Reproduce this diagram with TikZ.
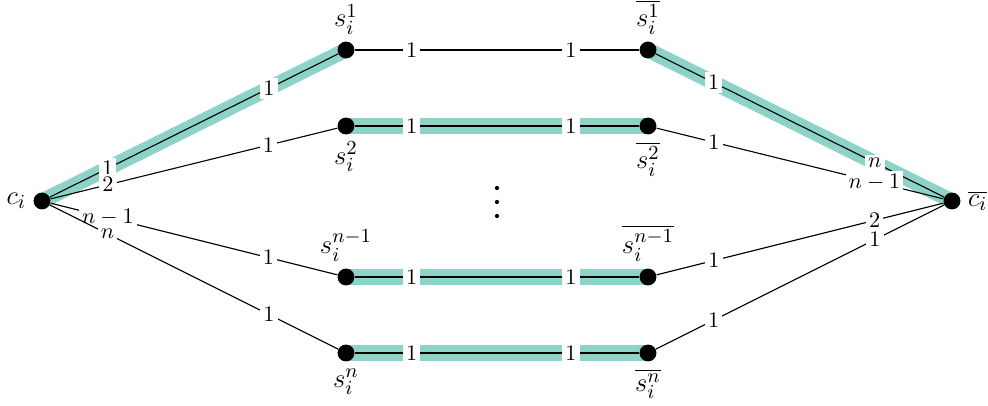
\documentclass[tikz,border=0pt]{standalone}
\usetikzlibrary{backgrounds}
\definecolor{hl}{HTML}{8DD3C7}
\begin{document}
\begin{tikzpicture}[x=0.45pt,y=-0.45pt,
  vtx/.style={circle,fill=black,inner sep=0pt,minimum size=7.6pt},
  lab/.style={fill=white,inner sep=1.4pt,font=\normalsize},
  edge/.style={line width=0.5pt},
  band/.style={line width=6.8pt,draw=hl},
  dotmark/.style={circle,fill=black,inner sep=0pt,minimum size=1.9pt},
  every label/.style={font=\fontsize{12.8}{15}\selectfont,inner sep=3pt}]
\useasboundingbox (0,0) rectangle (988,405);
% vertices
\node[vtx,label={left:$c_i$}] (c) at (42,201) {};
\node[vtx,label={right:$\overline{c_i}$}] (cb) at (952,201) {};
\node[vtx,label={above:$s_i^1$}] (s1) at (346,50) {};
\node[vtx,label={below:$s_i^2$}] (s2) at (346,126) {};
\node[vtx,label={above:$s_i^{n-1}$}] (s3) at (346,277) {};
\node[vtx,label={below:$s_i^n$}] (s4) at (346,353) {};
\node[vtx,label={above:$\overline{s_i^1}$}] (t1) at (648,50) {};
\node[vtx,label={below:$\overline{s_i^2}$}] (t2) at (648,126) {};
\node[vtx,label={above:$\overline{s_i^{n-1}}$}] (t3) at (648,277) {};
\node[vtx,label={below:$\overline{s_i^n}$}] (t4) at (648,353) {};
% vertical dots
\node[dotmark] (d1) at (497,188) {};
\node[dotmark] (d2) at (497,202) {};
\node[dotmark] (d3) at (497,216) {};
% highlighted paths
\begin{pgfonlayer}{background}
\draw[band] (c.center) -- (s1.center);
\draw[band] (t1.center) -- (cb.center);
\draw[band] (s2.center) -- (t2.center);
\draw[band] (s3.center) -- (t3.center);
\draw[band] (s4.center) -- (t4.center);
\end{pgfonlayer}
% edges
\draw[edge] (c) -- node[lab,pos=0.2]{$1$} node[lab,pos=0.76]{$1$} (s1);
\draw[edge] (c) -- node[lab,pos=0.2]{$2$} node[lab,pos=0.76]{$1$} (s2);
\draw[edge] (c) -- node[lab,pos=0.2]{$n-1$} node[lab,pos=0.76]{$1$} (s3);
\draw[edge] (c) -- node[lab,pos=0.2]{$n$} node[lab,pos=0.76]{$1$} (s4);
\draw[edge] (s1) -- node[lab,pos=0.2]{$1$} node[lab,pos=0.76]{$1$} (t1);
\draw[edge] (s2) -- node[lab,pos=0.2]{$1$} node[lab,pos=0.76]{$1$} (t2);
\draw[edge] (s3) -- node[lab,pos=0.2]{$1$} node[lab,pos=0.76]{$1$} (t3);
\draw[edge] (s4) -- node[lab,pos=0.2]{$1$} node[lab,pos=0.76]{$1$} (t4);
\draw[edge] (t1) -- node[lab,pos=0.2]{$1$} node[lab,pos=0.76]{$n$} (cb);
\draw[edge] (t2) -- node[lab,pos=0.2]{$1$} node[lab,pos=0.76]{$n-1$} (cb);
\draw[edge] (t3) -- node[lab,pos=0.2]{$1$} node[lab,pos=0.76]{$2$} (cb);
\draw[edge] (t4) -- node[lab,pos=0.2]{$1$} node[lab,pos=0.76]{$1$} (cb);
\end{tikzpicture}
\end{document}
